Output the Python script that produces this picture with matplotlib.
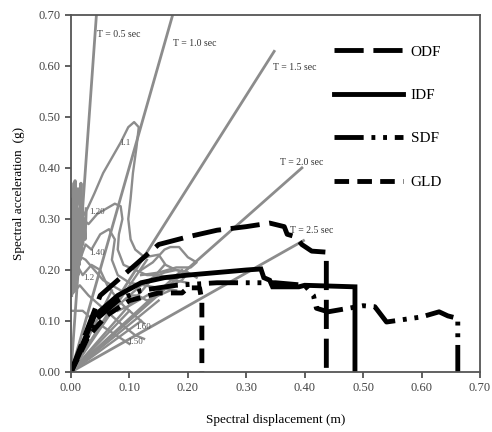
import matplotlib
matplotlib.use("Agg")
import matplotlib.pyplot as plt

plt.rcParams['font.family'] = ['Liberation Serif', 'DejaVu Serif']

# Period lines (gray, from origin), end points
period_labels = ["T = 0.5 sec", "T = 1.0 sec", "T = 1.5 sec", "T = 2.0 sec", "T = 2.5 sec"]
period_end_sd = [0.0435, 0.174, 0.349, 0.397, 0.400]
period_end_sa = [0.70, 0.70, 0.631, 0.402, 0.259]
period_text_sd = [0.044, 0.174, 0.345, 0.357, 0.374]
period_text_sa = [0.661, 0.645, 0.598, 0.410, 0.278]

# Demand spectra (gray), traced roughly
spec_11_sd = [0.000, 0.004, 0.008, 0.012, 0.018, 0.028, 0.040, 0.055, 0.070, 0.085, 0.098,
              0.108, 0.116, 0.112, 0.106, 0.102, 0.098, 0.102, 0.110, 0.126, 0.150, 0.162,
              0.180, 0.200, 0.215]
spec_11_sa = [0.200, 0.370, 0.220, 0.360, 0.300, 0.320, 0.350, 0.390, 0.420, 0.450, 0.480,
              0.490, 0.480, 0.440, 0.390, 0.340, 0.300, 0.260, 0.240, 0.225, 0.230, 0.210,
              0.200, 0.195, 0.185]
spec_12_sd = [0.000, 0.006, 0.012, 0.020, 0.030, 0.045, 0.060, 0.075, 0.085, 0.088, 0.082,
              0.080, 0.090, 0.110, 0.130, 0.150, 0.175, 0.200]
spec_12_sa = [0.190, 0.300, 0.240, 0.300, 0.290, 0.310, 0.320, 0.330, 0.325, 0.300, 0.270,
              0.240, 0.210, 0.200, 0.190, 0.190, 0.180, 0.175]
spec_14_sd = [0.000, 0.008, 0.015, 0.025, 0.035, 0.050, 0.065, 0.075, 0.070, 0.080, 0.100,
              0.125, 0.150, 0.180]
spec_14_sa = [0.180, 0.260, 0.220, 0.250, 0.240, 0.270, 0.280, 0.260, 0.220, 0.190, 0.175,
              0.170, 0.165, 0.160]
spec_16_sd = [0.000, 0.010, 0.020, 0.035, 0.050, 0.062, 0.075, 0.090, 0.110, 0.125]
spec_16_sa = [0.170, 0.210, 0.190, 0.210, 0.200, 0.170, 0.150, 0.130, 0.110, 0.095]
spec_18_sd = [0.000, 0.015, 0.030, 0.050, 0.070, 0.090, 0.110, 0.125]
spec_18_sa = [0.150, 0.170, 0.150, 0.130, 0.110, 0.090, 0.072, 0.065]
spec_20_sd = [0.000, 0.020, 0.040, 0.060, 0.080, 0.100]
spec_20_sa = [0.120, 0.120, 0.100, 0.085, 0.070, 0.055]
spec_15_sd = [0.010, 0.025, 0.040, 0.055, 0.070, 0.085, 0.100, 0.115, 0.130, 0.150, 0.170]
spec_15_sa = [0.230, 0.220, 0.200, 0.180, 0.170, 0.160, 0.150, 0.150, 0.140, 0.150, 0.160]
spike_sd = [0.001, 0.003, 0.004, 0.005, 0.006, 0.007, 0.008, 0.009, 0.010, 0.011, 0.012,
            0.013, 0.014, 0.015, 0.016, 0.017, 0.018, 0.019, 0.020, 0.022, 0.024, 0.026]
spike_sa = [0.150, 0.340, 0.170, 0.300, 0.160, 0.375, 0.180, 0.330, 0.200, 0.290, 0.190,
            0.320, 0.210, 0.280, 0.220, 0.370, 0.230, 0.340, 0.250, 0.300, 0.260, 0.320]
loop_sd = [0.080, 0.100, 0.120, 0.140, 0.160, 0.180, 0.200, 0.190, 0.160, 0.130, 0.100, 0.080]
loop_sa = [0.130, 0.150, 0.170, 0.185, 0.195, 0.200, 0.195, 0.180, 0.165, 0.150, 0.130, 0.120]
loop2_sd = [0.120, 0.140, 0.160, 0.170, 0.185, 0.200, 0.215, 0.205, 0.180, 0.150, 0.120]
loop2_sa = [0.200, 0.215, 0.240, 0.245, 0.245, 0.225, 0.215, 0.205, 0.205, 0.195, 0.190]
ray_end_sd = [0.130, 0.160, 0.190, 0.150, 0.120, 0.100, 0.070]
ray_end_sa = [0.220, 0.210, 0.200, 0.140, 0.100, 0.120, 0.160]

spec_labels = ["1.1", "1.20", "1.40", "1.2", "1.60", "1.50"]
spec_label_sd = [0.092, 0.044, 0.044, 0.030, 0.123, 0.110]
spec_label_sa = [0.449, 0.314, 0.233, 0.184, 0.088, 0.059]

# Capacity curves (black)
odf_sd = [0.000, 0.050, 0.090, 0.120, 0.150, 0.200, 0.250, 0.300, 0.340, 0.365, 0.370,
          0.385, 0.395, 0.412, 0.437, 0.437]
odf_sa = [0.000, 0.150, 0.190, 0.220, 0.250, 0.265, 0.278, 0.285, 0.292, 0.285, 0.270,
          0.265, 0.250, 0.237, 0.235, 0.000]
idf_sd = [0.000, 0.040, 0.080, 0.120, 0.160, 0.200, 0.250, 0.300, 0.325, 0.330, 0.340,
          0.345, 0.390, 0.400, 0.486, 0.486]
idf_sa = [0.000, 0.110, 0.150, 0.175, 0.185, 0.190, 0.195, 0.200, 0.202, 0.185, 0.180,
          0.167, 0.167, 0.170, 0.167, 0.000]
sdf_sd = [0.000, 0.040, 0.080, 0.120, 0.180, 0.250, 0.300, 0.350, 0.400, 0.415, 0.420,
          0.440, 0.500, 0.520, 0.540, 0.600, 0.630, 0.645, 0.662, 0.662]
sdf_sa = [0.000, 0.100, 0.140, 0.160, 0.170, 0.175, 0.175, 0.175, 0.170, 0.150, 0.125,
          0.118, 0.130, 0.128, 0.098, 0.108, 0.118, 0.110, 0.105, 0.000]
gld_sd = [0.000, 0.030, 0.060, 0.100, 0.150, 0.190, 0.200, 0.220, 0.224, 0.224]
gld_sa = [0.000, 0.070, 0.110, 0.140, 0.155, 0.155, 0.165, 0.165, 0.140, 0.000]

fig = plt.figure(figsize=(4.92, 4.32), dpi=100)
ax = fig.add_axes([0.1443, 0.1389, 0.8313, 0.8264])

gray = '#8c8c8c'
for sd, sa in [(spec_11_sd, spec_11_sa), (spec_12_sd, spec_12_sa), (spec_14_sd, spec_14_sa),
               (spec_16_sd, spec_16_sa), (spec_18_sd, spec_18_sa), (spec_20_sd, spec_20_sa),
               (spec_15_sd, spec_15_sa), (loop_sd, loop_sa), (loop2_sd, loop2_sa)]:
    ax.plot(sd, sa, color=gray, lw=1.7)
ax.plot(spike_sd, spike_sa, color=gray, lw=2.2)
for x1, y1 in zip(ray_end_sd, ray_end_sa):
    ax.plot([0, x1], [0, y1], color=gray, lw=1.7)
for lab, x, y in zip(spec_labels, spec_label_sd, spec_label_sa):
    ax.text(x, y, lab, fontsize=6.5, color='#555555', ha='center', va='center')

for x1, y1 in zip(period_end_sd, period_end_sa):
    ax.plot([0, x1], [0, y1], color=gray, lw=2.0, solid_capstyle='butt')
for lab, x, y in zip(period_labels, period_text_sd, period_text_sa):
    ax.text(x, y, lab, fontsize=7, color='#333333', ha='left', va='center')

lw = 3.5
ax.plot(odf_sd, odf_sa, color='black', lw=lw, dashes=(6, 2), dash_capstyle='butt', label='ODF')
ax.plot(idf_sd, idf_sa, color='black', lw=lw, solid_joinstyle='miter', label='IDF')
ax.plot(sdf_sd, sdf_sa, color='black', lw=lw, dashes=(6, 1.6, 0.8, 1.6, 0.8, 1.6),
        dash_capstyle='butt', label='SDF')
ax.plot(gld_sd, gld_sa, color='black', lw=lw, dashes=(3, 1.7), dash_capstyle='butt', label='GLD')

leg = ax.legend(loc='upper left', bbox_to_anchor=(0.61, 0.955), frameon=False, fontsize=11,
                handlelength=4.5, labelspacing=1.95, handletextpad=0.5)

ax.set_xlim(0, 0.70)
ax.set_ylim(0, 0.70)
ax.set_xticks([0.0, 0.1, 0.2, 0.3, 0.4, 0.5, 0.6, 0.7])
ax.set_yticks([0.0, 0.1, 0.2, 0.3, 0.4, 0.5, 0.6, 0.7])
ax.xaxis.set_major_formatter(matplotlib.ticker.FormatStrFormatter('%.2f'))
ax.yaxis.set_major_formatter(matplotlib.ticker.FormatStrFormatter('%.2f'))
ax.tick_params(direction='out', length=4, width=1.2, labelsize=9, colors='#444444')
for s in ax.spines.values():
    s.set_color('#555555')
    s.set_linewidth(1.3)

ax.set_xlabel('Spectral displacement (m)', fontsize=9.5, labelpad=14)
ax.set_ylabel('Spectral acceleration  (g)', fontsize=9.5, labelpad=10)

fig.savefig('out.png', dpi=100)
